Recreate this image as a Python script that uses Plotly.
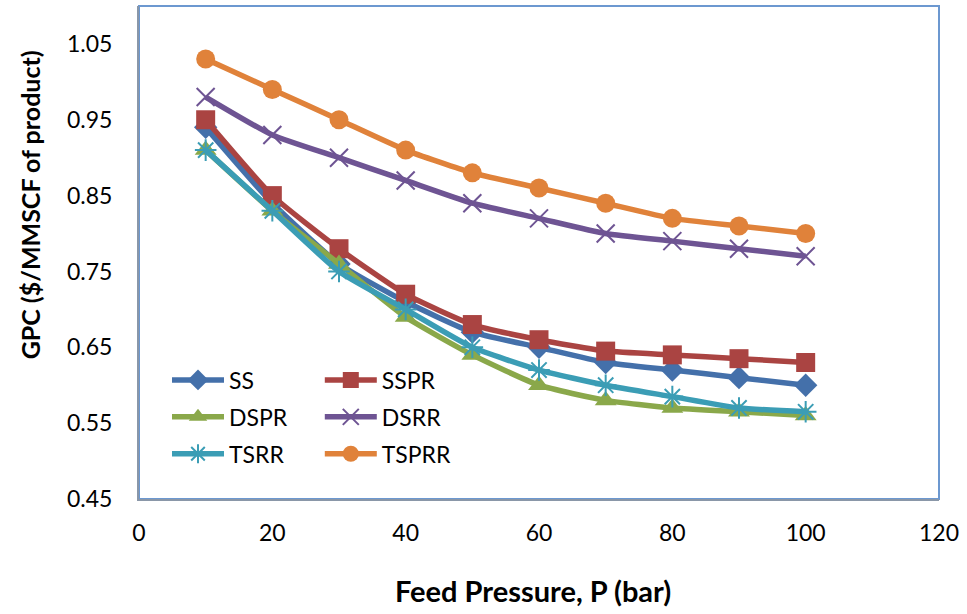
import plotly.graph_objects as go

pressure = [10, 20, 30, 40, 50, 60, 70, 80, 90, 100]
ss    = [0.94, 0.84, 0.76, 0.71, 0.67, 0.65, 0.63, 0.62, 0.61, 0.60]
sspr  = [0.95, 0.85, 0.78, 0.72, 0.68, 0.66, 0.645, 0.64, 0.635, 0.63]
dspr  = [0.91, 0.83, 0.76, 0.69, 0.64, 0.60, 0.58, 0.57, 0.565, 0.56]
dsrr  = [0.98, 0.93, 0.90, 0.87, 0.84, 0.82, 0.80, 0.79, 0.78, 0.77]
tsrr  = [0.91, 0.83, 0.75, 0.70, 0.65, 0.62, 0.60, 0.585, 0.57, 0.565]
tsprr = [1.03, 0.99, 0.95, 0.91, 0.88, 0.86, 0.84, 0.82, 0.81, 0.80]

names = ["SS", "SSPR", "DSPR", "DSRR", "TSRR", "TSPRR"]
series = [ss, sspr, dspr, dsrr, tsrr, tsprr]
colors = ["#4470AA", "#AA4442", "#8AA84A", "#6E5493", "#3B9DB5", "#E0823A"]
symbols = ["diamond", "square", "triangle-up", "x-thin", "asterisk-open", "circle"]
sizes = [18, 19, 19, 18, 18, 19]
legends = ["legend", "legend2", "legend", "legend2", "legend", "legend2"]

FONT = "Lato, 'Open Sans', sans-serif"

fig = go.Figure()
for i, (n, y) in enumerate(zip(names, series)):
    thin = symbols[i] in ("x-thin", "asterisk-open")
    fig.add_trace(go.Scatter(
        x=pressure, y=y, name=n, mode="lines+markers",
        line=dict(color=colors[i], width=5.5, shape="spline", smoothing=0.5),
        marker=dict(symbol=symbols[i], size=sizes[i], color=colors[i],
                    line=dict(color=colors[i], width=2 if thin else 0)),
        legend=legends[i], legendgroup=n,
    ))

legend_common = dict(
    font=dict(family=FONT, size=23, color="#000000"),
    bgcolor="rgba(0,0,0,0)", orientation="v",
    traceorder="grouped", tracegroupgap=4,
    xanchor="left", yanchor="top", itemwidth=52,
)

fig.update_layout(
    width=967, height=614,
    margin=dict(l=139, r=28, t=6, b=115),
    paper_bgcolor="white", plot_bgcolor="white",
    font=dict(family=FONT, size=22, color="#000000"),
    showlegend=True,
    legend=dict(x=0.035, y=0.285, **legend_common),
    legend2=dict(x=0.226, y=0.285, **legend_common),
    xaxis=dict(range=[0, 120], dtick=20, tick0=0, showgrid=False, zeroline=False,
               showline=True, linecolor="#8A97A8", linewidth=2, ticks="",
               ticklabelstandoff=12, tickfont=dict(family=FONT, size=23)),
    yaxis=dict(range=[0.45, 1.1], dtick=0.1, tick0=0.45, tickformat=".2f",
               showgrid=False, zeroline=False,
               showline=True, linecolor="#8A97A8", linewidth=2, ticks="",
               ticklabelstandoff=20, tickfont=dict(family=FONT, size=23)),
    shapes=[dict(type="rect", xref="paper", yref="paper", x0=0, y0=0, x1=1, y1=1,
                 line=dict(color="#6C98D0", width=2), layer="below")],
    annotations=[
        dict(text="<b>Feed Pressure, P (bar)</b>", xref="paper", yref="paper",
             x=0.4925, y=-0.185, xanchor="center", yanchor="middle",
             showarrow=False, font=dict(family=FONT, size=29)),
        dict(text="<b>GPC ($/MMSCF of product)</b>", xref="paper", yref="paper",
             x=-0.136, y=0.596, xanchor="center", yanchor="middle", textangle=-90,
             showarrow=False, font=dict(family=FONT, size=25)),
    ],
)

fig.write_html("out.html")
